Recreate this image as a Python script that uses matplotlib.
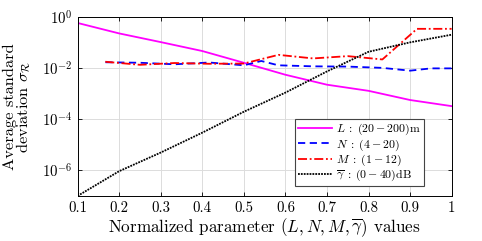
import numpy as np
import matplotlib
matplotlib.use("Agg")
import matplotlib.pyplot as plt

plt.rcParams["font.family"] = "serif"
plt.rcParams["font.serif"] = ["cmr10"]
plt.rcParams["mathtext.fontset"] = "cm"
plt.rcParams["axes.formatter.use_mathtext"] = True
plt.rcParams["axes.unicode_minus"] = False

# values (log10 of sigma)
x_L = [0.1, 0.2, 0.3, 0.4, 0.5, 0.6, 0.7, 0.8, 0.9, 1.0]
log_L = [-0.22, -0.63, -0.97, -1.32, -1.78, -2.25, -2.64, -2.88, -3.24, -3.48]

x_N = [0.167, 0.25, 0.333, 0.417, 0.5, 0.542, 0.583, 0.667, 0.75, 0.833, 0.9, 0.95, 1.0]
log_N = [-1.76, -1.78, -1.84, -1.77, -1.88, -1.71, -1.88, -1.92, -1.93, -1.98, -2.09, -2.0, -2.0]

x_M = [2/12, 3/12, 4/12, 5/12, 6/12, 7/12, 8/12, 9/12, 10/12, 11/12, 12/12]
log_M = [-1.74, -1.86, -1.79, -1.82, -1.81, -1.47, -1.61, -1.52, -1.65, -0.45, -0.45]

x_g = [0.1, 0.2, 0.3, 0.4, 0.5, 0.6, 0.7, 0.8, 0.9, 1.0]
log_g = [-7.0, -6.03, -5.3, -4.52, -3.7, -2.95, -2.12, -1.35, -0.98, -0.68]

labels = [r"$L\;:\;(20-200)$m", r"$N\;:\;(4-20)$", r"$M\;:\;(1-12)$",
          r"$\overline{\gamma}\;:\;(0-40)$dB"]

fig = plt.figure(figsize=(4.82, 2.41), dpi=100)
ax = fig.add_axes([0.161, 0.187, 0.776, 0.741])

ax.semilogy(x_L, 10**np.array(log_L), color="#FF00FF", lw=1.3, label=labels[0])
ax.semilogy(x_N, 10**np.array(log_N), color="#0000FF", lw=1.3, ls=(0, (4, 2.5)), label=labels[1])
ax.semilogy(x_M, 10**np.array(log_M), color="#FF0000", lw=1.3, ls=(0, (5, 1.5, 1, 1.5)), label=labels[2])
ax.semilogy(x_g, 10**np.array(log_g), color="black", lw=1.3, ls=(0, (1, 0.6)), label=labels[3])

ax.set_xlim(0.1, 1)
ax.set_ylim(1e-7, 1)
ax.set_xticks(np.arange(0.1, 1.01, 0.1))
ax.set_xticklabels(["0.1", "0.2", "0.3", "0.4", "0.5", "0.6", "0.7", "0.8", "0.9", "1"])
ax.set_yticks([1e-6, 1e-4, 1e-2, 1e0])
ax.yaxis.set_minor_locator(matplotlib.ticker.NullLocator())
ax.tick_params(direction="in", top=True, right=True, labelsize=10.7, length=3, width=0.6, pad=4)
ax.grid(True, color="#dcdcdc", lw=0.7)
ax.set_axisbelow(True)
for s in ax.spines.values():
    s.set_linewidth(0.7)

ax.set_xlabel(r"Normalized parameter $(L, N, M, \overline{\gamma})$ values", fontsize=12.3, labelpad=1)
ax.set_ylabel("Average standard\n" + r"deviation $\sigma_{\mathcal{R}}$", fontsize=11.8, linespacing=0.85)
ax.yaxis.set_label_coords(-0.118, 0.5)

leg = ax.legend(loc="lower right", bbox_to_anchor=(0.925, 0.055), fontsize=8.5, fancybox=False,
                edgecolor="#444444", framealpha=1, handlelength=2.9, borderpad=0.25,
                labelspacing=0.0, handletextpad=0.3, borderaxespad=0)
leg.get_frame().set_linewidth(0.8)

fig.savefig("out.png", dpi=100)
